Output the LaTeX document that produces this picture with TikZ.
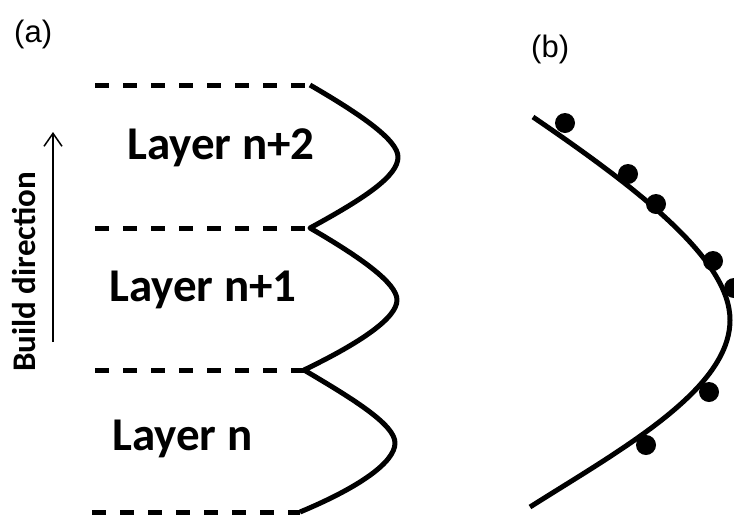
\documentclass[tikz,border=0pt]{standalone}
\usepackage{fontspec}
\setmainfont{Liberation Sans}
\newfontfamily\calib{Carlito}
\usetikzlibrary{arrows.meta}
\begin{document}
\begin{tikzpicture}[x=1pt,y=-1pt,
  layerlabel/.style={anchor=base west,inner sep=0pt,font=\calib\bfseries\fontsize{47}{50}\selectfont},
  panel/.style={anchor=north west,inner sep=0pt,font=\fontsize{31}{34}\selectfont},
  boundary/.style={line width=5pt,dash pattern=on 14pt off 14pt},
  profile/.style={line width=5pt,line join=round},
  sample/.style={circle,fill=black,inner sep=0pt,minimum size=20pt}]
\useasboundingbox (0,0) rectangle (734,515);

% panel labels
\node[panel] (pa) at (14,20) {(a)};
\node[panel] (pb) at (531,35) {(b)};

% layer boundaries (dashed) and cusp points
\coordinate (c1) at (310,85);
\coordinate (c2) at (310,228);
\coordinate (c3) at (304,370);
\coordinate (c4) at (300,512);
\draw[boundary] (95,85) -- (c1);
\draw[boundary] (95,228) -- (c2);
\draw[boundary] (95,370) -- (c3);
\draw[boundary] (92,512) -- (c4);

% scalloped melt-pool boundary
\draw[profile] (c1) .. controls (360,114) and (398,140) .. (398,157)
  .. controls (398,176) and (365,198) .. (c2)
  .. controls (360,257) and (397,283) .. (397,300)
  .. controls (397,318) and (360,343) .. (c3)
  .. controls (355,400) and (395,425) .. (395,443)
  .. controls (395,462) and (360,487) .. (c4);

% layer names
\node[layerlabel] (l2) at (127,159) {Layer n+2};
\node[layerlabel] (l1) at (109,301) {Layer n+1};
\node[layerlabel] (l0) at (112,450) {Layer n};

% build direction
\coordinate (bd0) at (53,342);
\coordinate (bd1) at (53,132);
\draw[line width=1.5pt,-{Straight Barb[length=13pt,width=18pt,line width=1.5pt]}] (bd0) -- (bd1);
\node[rotate=90,anchor=base west,inner sep=0pt,font=\calib\bfseries\fontsize{33}{36}\selectfont] (bd) at (35,372) {Build direction};

% fitted profile with measured points
\coordinate (f0) at (533,117);
\coordinate (f1) at (730,320);
\coordinate (f2) at (530,507);
\draw[profile] (f0) .. controls (640,190) and (730,260) .. (f1)
  .. controls (730,390) and (620,450) .. (f2);
\node[sample] (s1) at (565,123) {};
\node[sample] (s2) at (628,174) {};
\node[sample] (s3) at (656,204) {};
\node[sample] (s4) at (713,261) {};
\node[sample] (s5) at (734,288) {};
\node[sample] (s6) at (709,392) {};
\node[sample] (s7) at (646,445) {};
\end{tikzpicture}
\end{document}
